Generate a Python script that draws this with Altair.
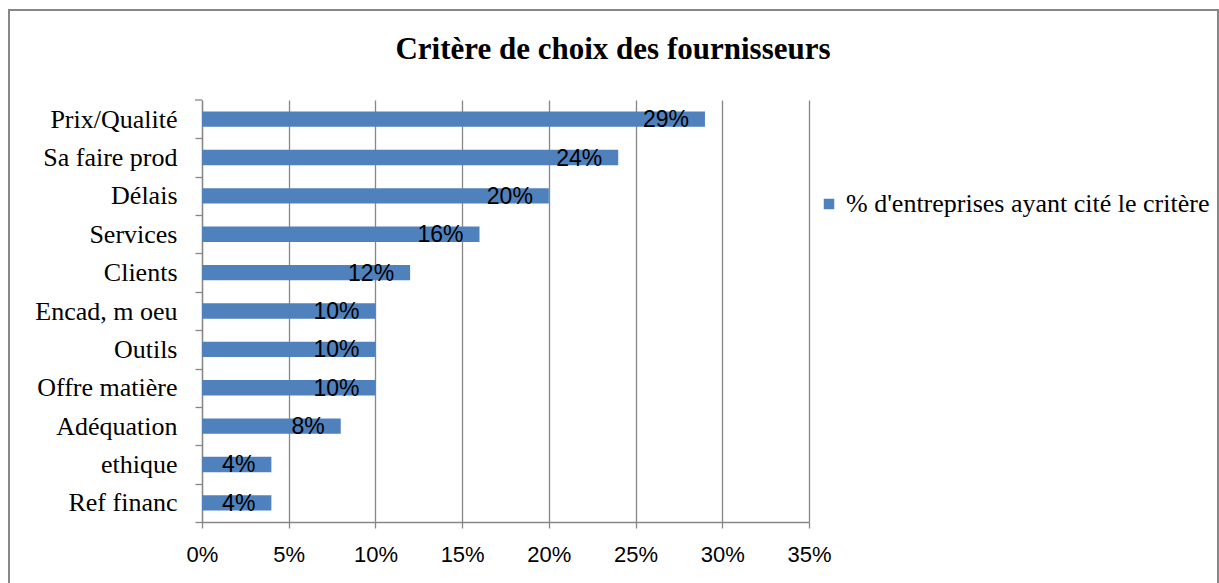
import altair as alt
import pandas as pd

categories = ["Prix/Qualité", "Sa faire prod", "Délais", "Services", "Clients",
              "Encad, m oeu", "Outils", "Offre matière", "Adéquation",
              "ethique", "Ref financ"]
values = [0.29, 0.24, 0.20, 0.16, 0.12, 0.10, 0.10, 0.10, 0.08, 0.04, 0.04]
series_name = "% d'entreprises ayant cité le critère"
chart_title = "Critère de choix des fournisseurs"
x_ticks = [0, 0.05, 0.10, 0.15, 0.20, 0.25, 0.30, 0.35]

df = pd.DataFrame({"critere": categories, "pct": values, "serie": series_name})
title_df = pd.DataFrame({"titre": [chart_title]})

GRID = "#878787"
BLUE = "#4F81BD"
SERIF = "Liberation Serif"
SANS = "Liberation Sans"
PLOT_H = 422
STEP = PLOT_H / len(categories)

# category ticks sit halfway between bars; labels are pulled back to the bar centres
y_axis = alt.Axis(labelFont=SERIF, labelFontSize=26, labelColor="black",
                  labelPadding=18, tickSize=7, tickOffset=STEP / 2,
                  labelOffset=-STEP / 2,
                  tickColor=GRID, domainColor=GRID, grid=False,
                  tickWidth=1.3, domainWidth=1.3)

y_enc = alt.Y("critere:N", sort=categories, title=None,
              scale=alt.Scale(paddingInner=0.6, paddingOuter=0.3), axis=y_axis)

x_enc = alt.X("pct:Q", title=None,
              scale=alt.Scale(domain=[0, 0.35], nice=False),
              axis=alt.Axis(values=x_ticks, format=".0%", labelFont=SANS,
                            labelFontSize=22, labelColor="black", labelPadding=16,
                            labelFlush=False, tickSize=6, tickColor=GRID,
                            domainColor=GRID, tickWidth=1.3, domainWidth=1.3,
                            gridColor=GRID, gridOpacity=1, gridWidth=1.3))

bars = alt.Chart(df).mark_bar(color=BLUE).encode(
    x=x_enc, y=y_enc,
    color=alt.Color("serie:N", scale=alt.Scale(range=[BLUE]), title=None,
                    legend=alt.Legend(orient="none", legendX=614, legendY=91,
                                      symbolType="square", symbolSize=110,
                                      symbolStrokeWidth=0, labelFont=SERIF,
                                      labelFontSize=26, labelColor="black",
                                      labelLimit=500, symbolOffset=0))
)

labels = alt.Chart(df).mark_text(font=SANS, fontSize=23, color="black",
                                 align="right", dx=-16, baseline="middle", dy=1).encode(
    x="pct:Q", y=alt.Y("critere:N", sort=categories, axis=y_axis),
    text=alt.Text("pct:Q", format=".0%")
)

# closing tick at the top end of the category axis
top_tick = alt.Chart(title_df).mark_rule(color=GRID, strokeWidth=1.3).encode(
    x=alt.value(-7), x2=alt.value(0), y=alt.value(0)
)

title = alt.Chart(title_df).mark_text(font=SERIF, fontSize=31, fontWeight="bold",
                                      color="black", align="center",
                                      baseline="alphabetic", clip=False).encode(
    x=alt.value(411), y=alt.value(-41), text="titre:N"
)

frame = alt.Chart(title_df).mark_rect(fill=None, stroke=GRID, strokeWidth=2, clip=False).encode(
    x=alt.value(-193), x2=alt.value(1016), y=alt.value(-90), y2=alt.value(520)
)

chart = alt.layer(frame, bars, labels, top_tick, title).properties(
    width=607, height=PLOT_H,
    padding={"left": 202, "top": 100, "right": 410, "bottom": 61},
    autosize=alt.AutoSizeParams(type="none"),
    view=alt.ViewBackground(stroke=None, strokeWidth=0),
).configure_view(stroke=None, strokeWidth=0).configure(background="white")

chart.save("out.html", embed_options={"renderer": "svg", "actions": False})
